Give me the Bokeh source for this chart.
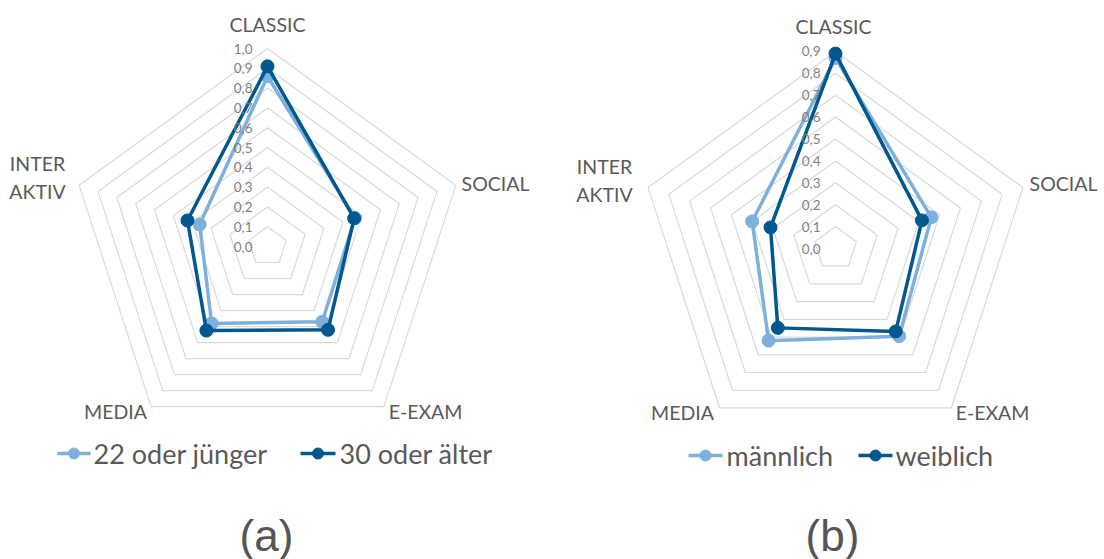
import math
from bokeh.plotting import figure
from bokeh.models import Range1d
from bokeh.core.properties import value
from bokeh.embed import file_html
from bokeh.resources import INLINE

# ---------------- data ----------------
categories = ["CLASSIC", "SOCIAL", "E-EXAM", "MEDIA", "INTER\nAKTIV"]

a_series_names = ["22 oder jünger", "30 oder älter"]
a_young = [0.86, 0.465, 0.47, 0.48, 0.36]
a_old = [0.91, 0.46, 0.52, 0.525, 0.425]
a_ticks = ["0,0", "0,1", "0,2", "0,3", "0,4", "0,5", "0,6", "0,7", "0,8", "0,9", "1,0"]
a_tick_values = [0.0, 0.1, 0.2, 0.3, 0.4, 0.5, 0.6, 0.7, 0.8, 0.9, 1.0]

b_series_names = ["männlich", "weiblich"]
b_male = [0.87, 0.46, 0.495, 0.52, 0.40]
b_female = [0.89, 0.415, 0.468, 0.448, 0.312]
b_ticks = ["0,0", "0,1", "0,2", "0,3", "0,4", "0,5", "0,6", "0,7", "0,8", "0,9"]
b_tick_values = [0.0, 0.1, 0.2, 0.3, 0.4, 0.5, 0.6, 0.7, 0.8, 0.9]

captions = ["(a)", "(b)"]

# ---------------- style ----------------
LIGHT = "#7DB0DC"
DARK = "#00588F"
GRID = "#D9D9D9"
CAT_COLOR = "#595959"
TICK_COLOR = "#7F7F7F"
FONT = "Lato"

W, H = 1104, 559
p = figure(width=W, height=H, output_backend="svg", toolbar_location=None,
           x_range=Range1d(0, W), y_range=Range1d(H, 0),
           min_border=0, outline_line_color=None, background_fill_color="white")
p.axis.visible = False
p.xgrid.visible = False
p.ygrid.visible = False

n = len(categories)
angles = [2 * math.pi * i / n for i in range(n)]


def pt(cx, cy, scale, r, ang):
    return cx + scale * r * math.sin(ang), cy - scale * r * math.cos(ang)


def radar(cx, cy, scale, tick_values, ticks, series, names, label_pos, legend_y, legend_x):
    # rings
    for tv in tick_values[1:]:
        xs, ys = [], []
        for ang in angles + [angles[0]]:
            x, y = pt(cx, cy, scale, tv, ang)
            xs.append(x)
            ys.append(y)
        p.line(xs, ys, line_color=GRID, line_width=1.2)
    # series
    colors = [LIGHT, DARK]
    for vals, col in zip(series, colors):
        xs, ys = [], []
        for v, ang in zip(vals + [vals[0]], angles + [angles[0]]):
            x, y = pt(cx, cy, scale, v, ang)
            xs.append(x)
            ys.append(y)
        p.line(xs, ys, line_color=col, line_width=3.5, line_join="round")
        p.scatter(xs[:-1], ys[:-1], size=13, fill_color=col, line_color=col)
    # tick labels
    ty = [cy - scale * tv for tv in tick_values]
    p.text([cx - 15] * len(ty), ty, text=ticks, text_align="right", text_baseline="middle",
           text_font=value(FONT), text_font_size="13.5px", text_color=TICK_COLOR)
    # category labels
    lx = [q[0] for q in label_pos]
    ly = [q[1] for q in label_pos]
    p.text(lx, ly, text=categories, text_align="center", text_baseline="middle",
           text_font=value(FONT), text_font_size="19.5px", text_color=CAT_COLOR,
           text_line_height=1.2)
    # legend
    for (x0, x1, tx), nm, col in zip(legend_x, names, colors):
        p.line([x0, x1], [legend_y, legend_y], line_color=col, line_width=3.5)
        p.scatter([(x0 + x1) / 2], [legend_y], size=11, fill_color=col, line_color=col)
        p.text([tx], [legend_y], text=[nm], text_align="left", text_baseline="middle",
               text_font=value(FONT), text_font_size="27px", text_color=CAT_COLOR)


radar(267, 246, 198, a_tick_values, a_ticks, [a_young, a_old], a_series_names,
      [(267, 24), (495, 183), (425, 411), (115, 411), (37, 177)],
      453, [(57, 90, 93), (300, 335, 339)])
radar(835, 248, 219, b_tick_values, b_ticks, [b_male, b_female], b_series_names,
      [(833, 26), (1063, 183), (992, 412), (682, 412), (604, 180)],
      455, [(688, 722, 726), (858, 892, 895)])

p.text([266, 832], [535, 535], text=captions, text_align="center", text_baseline="middle",
       text_font=value("Liberation Sans"), text_font_size="44px", text_color="#555555")

open("out.html", "w").write(file_html(p, INLINE))
